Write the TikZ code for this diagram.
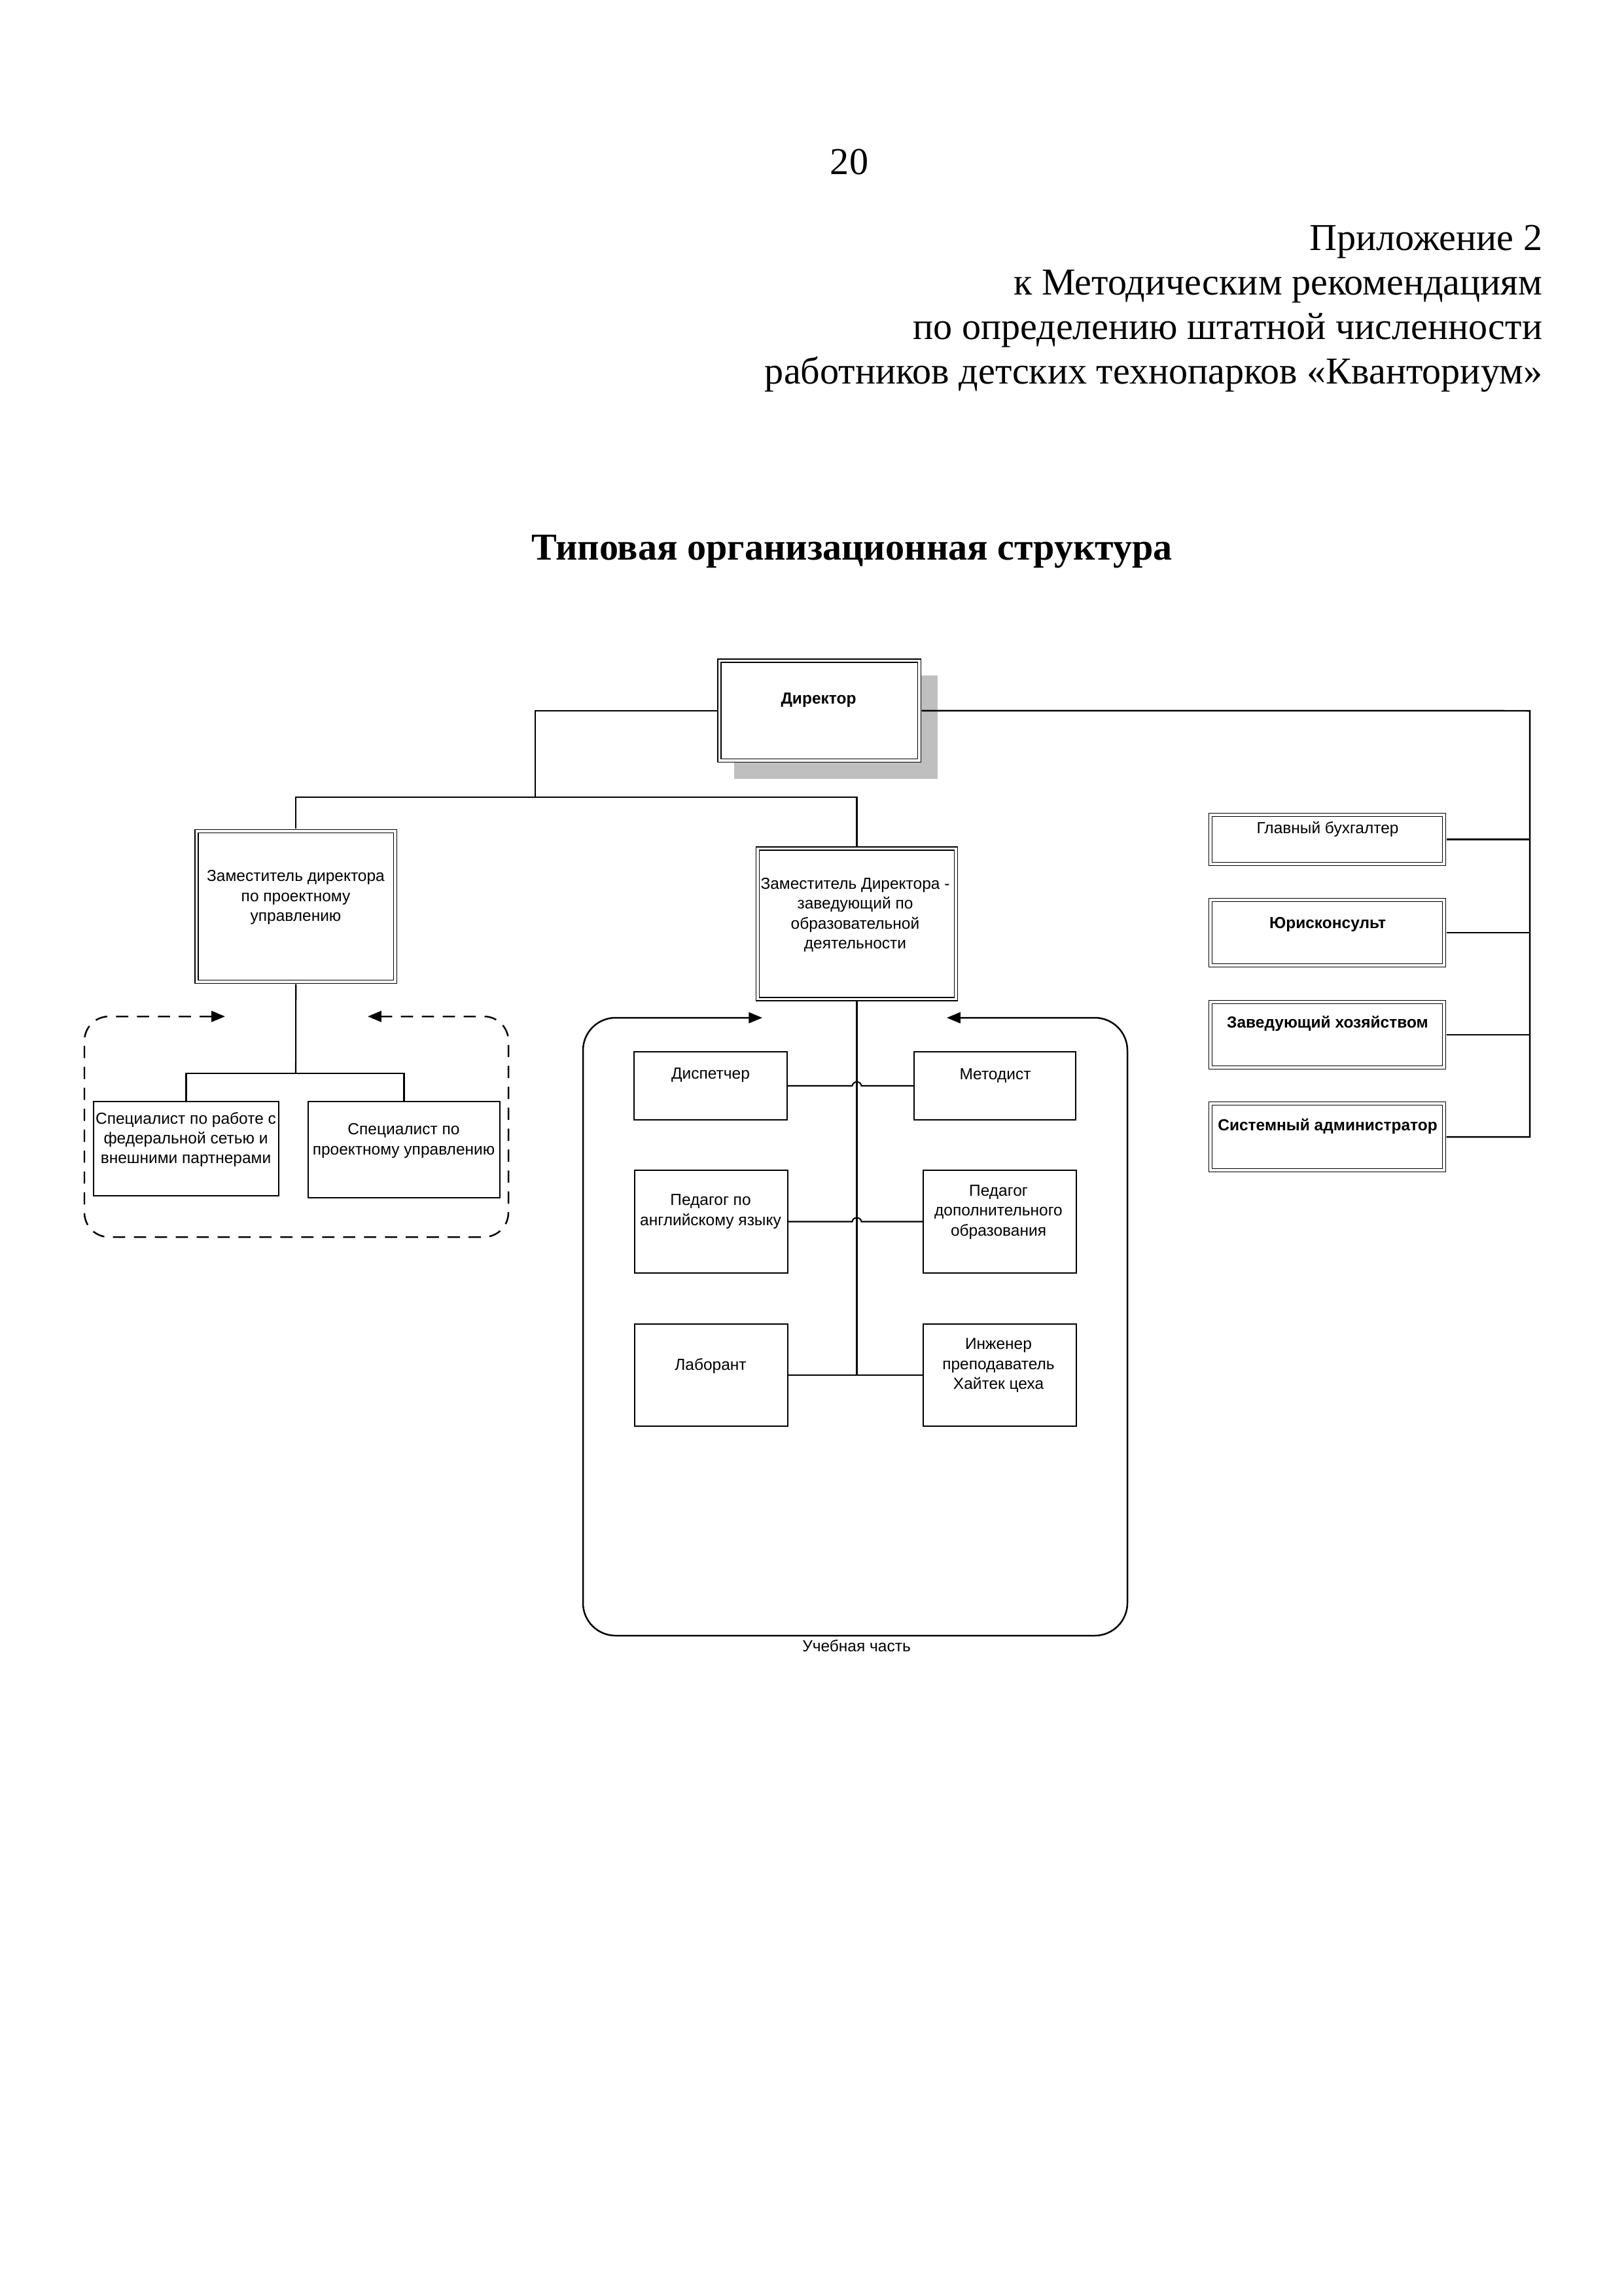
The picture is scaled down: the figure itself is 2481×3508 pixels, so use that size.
\documentclass[tikz,border=0pt]{standalone}
\usepackage{fontspec}
\setmainfont{Liberation Serif}
\newfontfamily\arialf{Liberation Sans}
\usetikzlibrary{arrows.meta,fit,calc}
\begin{document}
\begin{tikzpicture}[x=0.24088pt,y=-0.24088pt,
  sbox/.style={draw, line width=0.5pt, inner sep=0pt, outer sep=0.25pt, fill=white},
  dbox/.style={draw, line width=0.45pt, double, double distance=0.75pt, inner sep=0pt, outer sep=0.85pt, fill=white},
  btxt/.style={font=\arialf\fontsize{5.9}{7.3}\selectfont, align=center, inner sep=0pt},
  bbtxt/.style={font=\arialf\bfseries\fontsize{5.9}{7.3}\selectfont, align=center, inner sep=0pt},
  hdr/.style={font=\fontsize{14}{16}\selectfont, inner sep=0pt},
  conn/.style={line width=0.5pt},
  grpframe/.style={line width=0.6pt, {Triangle[length=5pt,width=4pt]}-{Triangle[length=5pt,width=4pt]}}]
\useasboundingbox (0,0) rectangle (2481,3508);
\fill[white] (0,0) rectangle (2481,3508);

% header
\node[hdr, anchor=base] (pg) at (1298,267) {20};
\node[hdr, anchor=base east] (h1) at (2358,383) {Приложение 2};
\node[hdr, anchor=base east] (h2) at (2358,451) {к Методическим рекомендациям};
\node[hdr, anchor=base east] (h3) at (2358,519) {по определению штатной численности};
\node[hdr, anchor=base east] (h4) at (2358,587) {работников детских технопарков «Кванториум»};
\node[hdr, anchor=base, font=\bfseries\fontsize{14}{16}\selectfont] (title) at (1302,855) {Типовая организационная структура};

% director
\fill[gray!50] (1122,1032) rectangle (1433,1190);
\node[dbox, fit={(1099.5,1009.5) (1405,1162)}] (dir) {};
\node[bbtxt] (dirt) at (1251,1070) {Директор};

% deputies
\node[dbox, fit={(300.5,1270) (604,1500)}] (dep1) {};
\node[btxt] (dep1t) at (452,1371) {Заместитель директора\\по проектному\\управлению};
\node[dbox, fit={(1158,1296.5) (1461,1526.5)}] (dep2) {};
\node[btxt] (dep2t) at (1307,1398) {Заместитель Директора -\\заведующий по\\образовательной\\деятельности};

% right column
\node[dbox, fit={(1850,1245) (2207,1320)}] (gb) {};
\node[btxt] (gbt) at (2029,1267) {Главный бухгалтер};
\node[dbox, fit={(1850,1375) (2207,1475)}] (ur) {};
\node[bbtxt] (urt) at (2029,1412) {Юрисконсульт};
\node[dbox, fit={(1850,1531) (2207,1631)}] (zh) {};
\node[bbtxt] (zht) at (2029,1564) {Заведующий хозяйством};
\node[dbox, fit={(1850,1686) (2207,1788)}] (sa) {};
\node[bbtxt] (sat) at (2029,1721) {Системный администратор};

% director connectors
\coordinate (jl) at (818,1218);
\coordinate (jr) at (2338,1086);
\draw[conn] (dir.west) -| (jl);
\draw[conn] (dep1.north) |- (jl) -| (dep2.north);
\draw[conn, line width=0.6pt] (dir.east) -- (jr) |- (sa.east);
\draw[conn] (gb.east) -- (gb.east -| jr);
\draw[conn] (ur.east) -- (ur.east -| jr);
\draw[conn] (zh.east) -- (zh.east -| jr);

% project group
\draw[grpframe, dash pattern=on 4.5pt off 3.2pt, rounded corners=9pt]
  (344,1553) -- (129,1553) -- (129,1890) -- (777,1890) -- (777,1553) -- (562,1553);
\node[sbox, fit={(143,1683) (426,1827)}] (sp1) {};
\node[btxt] (sp1t) at (284,1741) {Специалист по работе с\\федеральной сетью и\\внешними партнерами};
\node[sbox, fit={(471,1683) (764,1830)}] (sp2) {};
\node[btxt] (sp2t) at (617,1743) {Специалист по\\проектному управлению};
\coordinate (jd1) at (452,1640);
\draw[conn] (dep1.south) -- (jd1);
\draw[conn] (sp1.north) |- (jd1) -| (sp2.north);

% education group
\draw[grpframe, rounded corners=12pt]
  (1165,1555) -- (891,1555) -- (891,2499) -- (1723,2499) -- (1723,1555) -- (1447,1555);
\node[btxt] (uch) at (1309,2515) {Учебная часть};

\node[sbox, fit={(969,1607) (1203,1711)}] (disp) {};
\node[btxt] (dispt) at (1086,1643) {Диспетчер};
\node[sbox, fit={(1397,1607) (1644,1711)}] (met) {};
\node[btxt] (mett) at (1521,1643) {Методист};
\node[sbox, fit={(970,1788) (1204,1945)}] (ang) {};
\node[btxt] (angt) at (1086,1851) {Педагог по\\английскому языку};
\node[sbox, fit={(1411,1788) (1645,1945)}] (dop) {};
\node[btxt] (dopt) at (1526,1852) {Педагог\\дополнительного\\образования};
\node[sbox, fit={(970,2023) (1204,2179)}] (lab) {};
\node[btxt] (labt) at (1086,2087) {Лаборант};
\node[sbox, fit={(1411,2023) (1645,2179)}] (ing) {};
\node[btxt] (ingt) at (1526,2086) {Инженер\\преподаватель\\Хайтек цеха};

\coordinate (vb) at (dep2.south |- lab.east);
\draw[conn] (dep2.south) -- (vb);
\draw[conn] (lab.east) -- (ing.west);
\draw[conn] (disp.east) -- ($(disp.east -| vb)+(-7,0)$)
  .. controls +(1,-8) and +(-1,-8) .. ($(disp.east -| vb)+(7,0)$) -- (met.west);
\draw[conn] (ang.east) -- ($(ang.east -| vb)+(-7,0)$)
  .. controls +(1,-8) and +(-1,-8) .. ($(ang.east -| vb)+(7,0)$) -- (dop.west);
\end{tikzpicture}
\end{document}
